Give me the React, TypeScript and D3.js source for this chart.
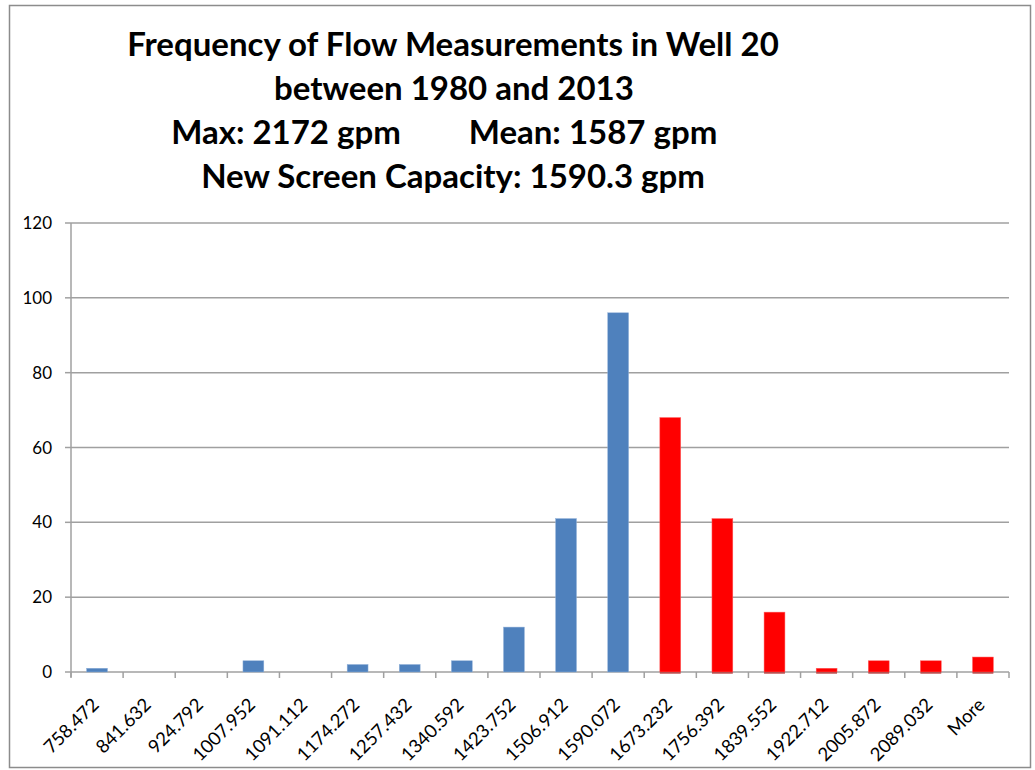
import React from "react";
import * as d3 from "d3";

// histogram bins (upper bound labels) and counts
const bins = [
  "758.472", "841.632", "924.792", "1007.952", "1091.112", "1174.272",
  "1257.432", "1340.592", "1423.752", "1506.912", "1590.072", "1673.232",
  "1756.392", "1839.552", "1922.712", "2005.872", "2089.032", "More",
];
const counts = [1, 0, 0, 3, 0, 2, 2, 3, 12, 41, 96, 68, 41, 16, 1, 3, 3, 4];
// bins above new screen capacity are drawn red
const overCapacity = [
  false, false, false, false, false, false, false, false, false, false, false,
  true, true, true, true, true, true, true,
];
const yTicks = [0, 20, 40, 60, 80, 100, 120];
const title1 = "Frequency of Flow Measurements in Well 20";
const title2 = "between 1980 and 2013";
const titleMax = "Max: 2172 gpm";
const titleMean = "Mean: 1587 gpm";
const title4 = "New Screen Capacity: 1590.3 gpm";

const W = 1035;
const H = 770;
const left = 71;
const right = 1009;
const top = 223;
const bottom = 672;

export default function App() {
  const x = d3.scaleBand<string>().domain(bins).range([left, right]).paddingInner(0.6).paddingOuter(0.3);
  const y = d3.scaleLinear().domain([0, 120]).range([bottom, top]);
  const step = x.step();
  const tickXs = d3.range(bins.length + 1).map((i) => left + i * step);
  const font = "Lato, 'Open Sans', sans-serif";
  const tStyle = { fontFamily: font, fontWeight: 700, fontSize: 33, fill: "#000" } as const;

  return (
    <svg width={W} height={H} style={{ position: "absolute", left: 0, top: 0 }}>
      <rect x={0} y={0} width={W} height={H} fill="#fff" />
      <rect x={9.5} y={5.5} width={1021} height={762} fill="none" stroke="#8c8c8c" strokeWidth={1.5} />

      <text x={453} y={56} textAnchor="middle" {...tStyle}>{title1}</text>
      <text x={454} y={100} textAnchor="middle" {...tStyle}>{title2}</text>
      <text x={286} y={144} textAnchor="middle" {...tStyle}>{titleMax}</text>
      <text x={593} y={144} textAnchor="middle" {...tStyle}>{titleMean}</text>
      <text x={453} y={188} textAnchor="middle" {...tStyle}>{title4}</text>

      {/* gridlines + y ticks */}
      {yTicks.map((t) => (
        <g key={t}>
          <line x1={left} x2={right} y1={y(t)} y2={y(t)} stroke="#a0a0a0" strokeWidth={1.5} />
          <line x1={left - 6} x2={left} y1={y(t)} y2={y(t)} stroke="#a0a0a0" strokeWidth={1.5} />
          <text x={52} y={y(t) + 6} textAnchor="end" fontFamily={font} fontSize={17} fill="#000">
            {t}
          </text>
        </g>
      ))}
      <line x1={left} x2={left} y1={top} y2={bottom + 5} stroke="#a0a0a0" strokeWidth={1.5} />

      {/* x ticks */}
      {tickXs.map((tx, i) => (
        <line key={i} x1={tx} x2={tx} y1={bottom} y2={bottom + 6} stroke="#a0a0a0" strokeWidth={1.5} />
      ))}

      {/* bars */}
      {bins.map((b, i) =>
        counts[i] > 0 ? (
          <g key={b}>
            <rect
              x={x(b)!}
              y={y(counts[i])}
              width={x.bandwidth()}
              height={bottom - y(counts[i])}
              fill={overCapacity[i] ? "#ff0000" : "#4f81bd"}
              stroke={overCapacity[i] ? "#ff6060" : "#8fb0d8"}
              strokeWidth={0.5}
            />
            {overCapacity[i] && (
              <line x1={x(b)!} x2={x(b)! + x.bandwidth()} y1={bottom + 1} y2={bottom + 1} stroke="#a00000" strokeWidth={1} />
            )}
          </g>
        ) : null
      )}

      {/* x labels */}
      {bins.map((b) => {
        const cx = x(b)! + x.bandwidth() / 2 + 3;
        const cy = bottom + 34;
        return (
          <text
            key={b}
            x={cx}
            y={cy}
            transform={`rotate(-45, ${cx}, ${cy})`}
            textAnchor="end"
            fontFamily={font}
            fontSize={18.5}
            fill="#000"
          >
            {b}
          </text>
        );
      })}
    </svg>
  );
}
